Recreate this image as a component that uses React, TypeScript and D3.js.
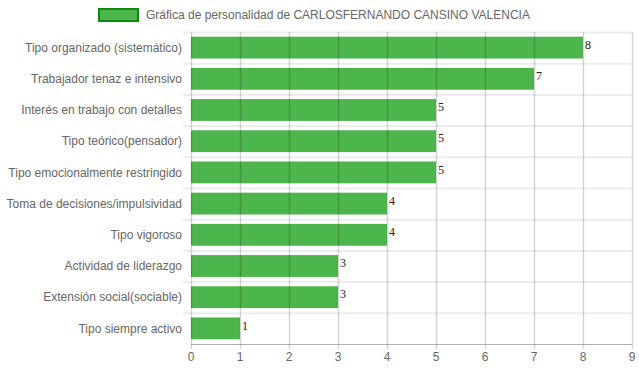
import React, { useEffect, useRef } from "react";
import * as d3 from "d3";

const categories = [
  "Tipo organizado (sistemático)",
  "Trabajador tenaz e intensivo",
  "Interés en trabajo con detalles",
  "Tipo teórico(pensador)",
  "Tipo emocionalmente restringido",
  "Toma de decisiones/impulsividad",
  "Tipo vigoroso",
  "Actividad de liderazgo",
  "Extensión social(sociable)",
  "Tipo siempre activo",
];
const values = [8, 7, 5, 5, 5, 4, 4, 3, 3, 1];
const xTicks = [0, 1, 2, 3, 4, 5, 6, 7, 8, 9];
const legendLabel = "Gráfica de personalidad de CARLOSFERNANDO CANSINO VALENCIA";

const W = 639;
const H = 372;
const margin = { top: 32, right: 7, bottom: 28, left: 191 };
const font = "'Liberation Sans', Arial, Helvetica, sans-serif";

export default function App() {
  const ref = useRef<SVGSVGElement>(null);

  useEffect(() => {
    const svg = d3.select(ref.current);
    svg.selectAll("*").remove();
    const width = W - margin.left - margin.right;
    const height = H - margin.top - margin.bottom;
    const g = svg.append("g").attr("transform", `translate(${margin.left},${margin.top})`);

    const x = d3.scaleLinear().domain([0, 9]).range([0, width]);
    const y = d3.scaleBand().domain(categories).range([0, height]).paddingInner(0).paddingOuter(0);
    const bh = y.bandwidth() * 0.7;

    // horizontal category gridlines
    const bounds = categories.map((c) => y(c)!);
    g.append("g")
      .selectAll("line")
      .data(bounds)
      .enter()
      .append("line")
      .attr("x1", -8)
      .attr("x2", width)
      .attr("y1", (d) => d + 0.5)
      .attr("y2", (d) => d + 0.5)
      .attr("stroke", "rgba(0,0,0,0.07)")
      .attr("stroke-width", 2);

    // bars
    g.append("g")
      .selectAll("rect")
      .data(values)
      .enter()
      .append("rect")
      .attr("x", x(0))
      .attr("y", (d, i) => y(categories[i])! + (y.bandwidth() - bh) / 2)
      .attr("width", (d) => x(d) - x(0))
      .attr("height", bh)
      .attr("fill", "#4cb54c");

    // vertical gridlines (over bars, translucent)
    g.append("g")
      .selectAll("line")
      .data(xTicks)
      .enter()
      .append("line")
      .attr("x1", (d) => Math.round(x(d)) + 0.5)
      .attr("x2", (d) => Math.round(x(d)) + 0.5)
      .attr("y1", 0)
      .attr("y2", height + 5)
      .attr("stroke", "rgba(0,0,0,0.17)")
      .attr("stroke-width", 1.5);

    // bottom axis line
    g.append("line")
      .attr("x1", 0)
      .attr("x2", width)
      .attr("y1", height + 0.5)
      .attr("y2", height + 0.5)
      .attr("stroke", "rgba(0,0,0,0.3)");

    // tick labels
    g.append("g")
      .selectAll("text")
      .data(xTicks)
      .enter()
      .append("text")
      .attr("x", (d) => x(d))
      .attr("y", height + 17)
      .attr("text-anchor", "middle")
      .attr("font-family", font)
      .attr("font-size", 12)
      .attr("fill", "#666")
      .text((d) => d);

    // category labels
    g.append("g")
      .selectAll("text")
      .data(categories)
      .enter()
      .append("text")
      .attr("x", -9)
      .attr("y", (d) => y(d)! + y.bandwidth() / 2)
      .attr("dy", "0.35em")
      .attr("text-anchor", "end")
      .attr("font-family", font)
      .attr("font-size", 12)
      .attr("fill", "#666")
      .text((d) => d);

    // value labels
    g.append("g")
      .selectAll("text")
      .data(values)
      .enter()
      .append("text")
      .attr("x", (d) => x(d) + 2)
      .attr("y", (d, i) => y(categories[i])! + y.bandwidth() / 2 - 3)
      .attr("dy", "0.35em")
      .attr("font-family", "'Liberation Serif', 'Times New Roman', serif")
      .attr("font-size", 12)
      .attr("fill", "#222")
      .text((d) => d);

    // legend
    svg
      .append("rect")
      .attr("x", 99)
      .attr("y", 9)
      .attr("width", 39)
      .attr("height", 12)
      .attr("fill", "#4cb54c")
      .attr("stroke", "#0d8a0d")
      .attr("stroke-width", 2);
    svg
      .append("text")
      .attr("x", 146)
      .attr("y", 15)
      .attr("dy", "0.35em")
      .attr("font-family", font)
      .attr("font-size", 12)
      .attr("fill", "#666")
      .text(legendLabel);
  }, []);

  return (
    <svg
      ref={ref}
      width={W}
      height={H}
      style={{ position: "absolute", left: 0, top: 0, background: "#fff" }}
    />
  );
}
